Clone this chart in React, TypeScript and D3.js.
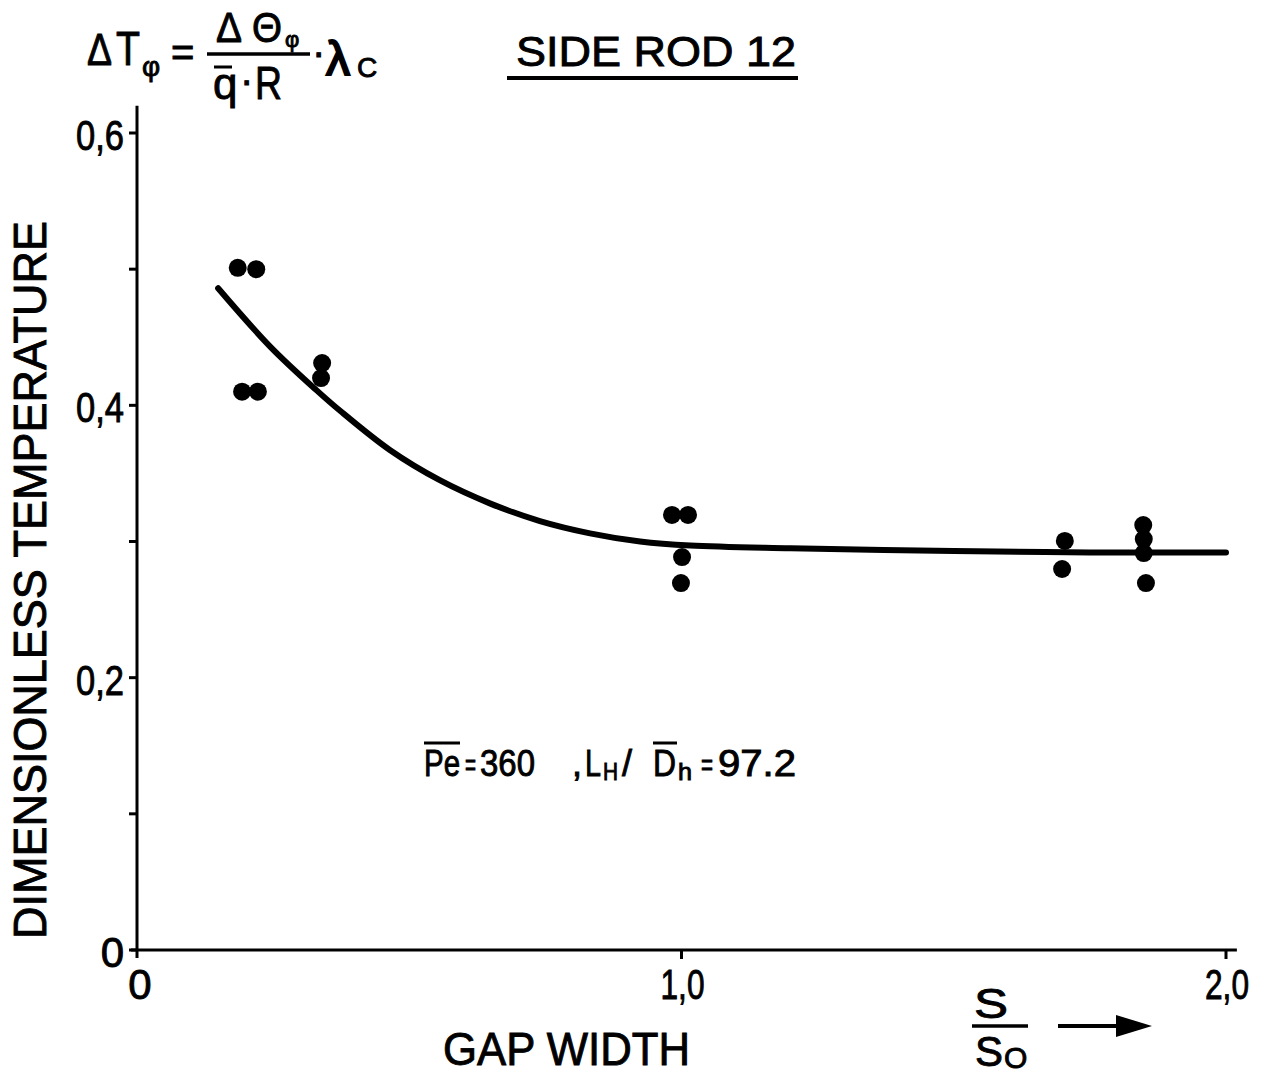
import React from "react";
import * as d3 from "d3";

const pointsX = [0.185, 0.219, 0.193, 0.222, 0.34, 0.338, 0.9825, 1.012, 1.001, 0.999, 1.704, 1.699, 1.848, 1.849, 1.849, 1.853];
const pointsY = [0.501, 0.500, 0.410, 0.410, 0.431, 0.420, 0.3195, 0.3195, 0.2886, 0.2695, 0.3004, 0.2798, 0.3121, 0.3018, 0.2915, 0.2695];

const curveX = [0.149, 0.245, 0.33, 0.373, 0.465, 0.556, 0.648, 0.74, 0.832, 0.924, 1.016, 1.2, 1.5, 1.75, 2.0];
const curveY = [0.486, 0.443, 0.411, 0.396, 0.367, 0.345, 0.328, 0.315, 0.306, 0.300, 0.297, 0.295, 0.293, 0.292, 0.292];

const yTicks = [0, 0.1, 0.2, 0.3, 0.4, 0.5, 0.6];
const yTickLabels = ["0", "", "0,2", "", "0,4", "", "0,6"];
const xTicks = [0, 1, 2];
const xTickLabels = ["0", "1,0", "2,0"];

const FONT = "'Liberation Sans', Arial, sans-serif";
const TS = { fill: "#000", stroke: "#000", strokeWidth: 0.9 } as const;

export default function App() {
  const x = d3.scaleLinear().domain([0, 2]).range([137, 1226]);
  const y = d3.scaleLinear().domain([0, 0.6]).range([950, 133]);
  const line = d3
    .line<number>()
    .x((_, i) => x(curveX[i]))
    .y((_, i) => y(curveY[i]))
    .curve(d3.curveCatmullRom.alpha(0.5));
  const curvePath = line(curveX) || "";

  return (
    <svg
      width={1262}
      height={1075}
      style={{ position: "absolute", left: 0, top: 0, background: "#fff" }}
      fontFamily={FONT}
    >
      <rect width={1262} height={1075} fill="#fff" />
      {/* axes */}
      <line x1={x(0)} x2={x(0)} y1={y(0) + 8} y2={y(0.62)} stroke="#000" strokeWidth={3} />
      <line x1={x(0) - 6} x2={x(2.02)} y1={y(0)} y2={y(0)} stroke="#000" strokeWidth={3} />
      {yTicks.map((t, i) => (
        <g key={"yt" + i}>
          <line x1={x(0) - 8} x2={x(0)} y1={y(t)} y2={y(t)} stroke="#000" strokeWidth={3} />
          {yTickLabels[i] && (
            <text
              x={x(0) - 13}
              y={y(t) + 17}
              fontSize={42}
              textAnchor="end"
              {...TS}
              {...(yTickLabels[i].length > 1 ? { textLength: 48, lengthAdjust: "spacingAndGlyphs" } : {})}
            >
              {yTickLabels[i]}
            </text>
          )}
        </g>
      ))}
      {xTicks.map((t, i) => (
        <g key={"xt" + i}>
          {t > 0 && <line x1={x(t)} x2={x(t)} y1={y(0)} y2={y(0) + 9} stroke="#000" strokeWidth={3} />}
          <text
            x={x(t) + (t === 0 ? 3 : 1)}
            y={999}
            fontSize={42}
            textAnchor="middle"
            {...TS}
            {...(xTickLabels[i].length > 1 ? { textLength: 44, lengthAdjust: "spacingAndGlyphs" } : {})}
          >
            {xTickLabels[i]}
          </text>
        </g>
      ))}

      {/* curve */}
      <path d={curvePath} fill="none" stroke="#000" strokeWidth={6} strokeLinecap="round" />

      {/* points */}
      {pointsX.map((px, i) => (
        <circle key={"p" + i} cx={x(px)} cy={y(pointsY[i])} r={9} fill="#000" />
      ))}

      {/* y axis label */}
      <text
        transform="translate(46,580) rotate(-90)"
        fontSize={46}
        textAnchor="middle"
        textLength={718}
        lengthAdjust="spacingAndGlyphs"
        {...TS}
      >
        DIMENSIONLESS TEMPERATURE
      </text>

      {/* x axis label */}
      <text x={443} y={1065} fontSize={46} textLength={247} lengthAdjust="spacingAndGlyphs" {...TS}>
        GAP WIDTH
      </text>

      {/* S / S0 with arrow */}
      <text x={974} y={1018} fontSize={42} textLength={34} lengthAdjust="spacingAndGlyphs" {...TS}>S</text>
      <line x1={972} x2={1028} y1={1026} y2={1026} stroke="#000" strokeWidth={3.5} />
      <text x={975} y={1066} fontSize={42} textLength={28} lengthAdjust="spacingAndGlyphs" {...TS}>S</text>
      <text x={1004} y={1068} fontSize={30} {...TS}>O</text>
      <line x1={1058} x2={1122} y1={1026} y2={1026} stroke="#000" strokeWidth={4} />
      <path d="M1116,1015 L1152,1026 L1116,1037 Z" fill="#000" />

      {/* title */}
      <text x={516} y={66} fontSize={43} textLength={280} lengthAdjust="spacingAndGlyphs" {...TS}>
        SIDE ROD 12
      </text>
      <line x1={507} x2={798} y1={78} y2={78} stroke="#000" strokeWidth={4} />

      {/* formula */}
      <text x={87} y={65} fontSize={44} textLength={25} lengthAdjust="spacingAndGlyphs" {...TS}>Δ</text>
      <text x={116} y={65} fontSize={48} textLength={24} lengthAdjust="spacingAndGlyphs" {...TS}>T</text>
      <text x={142} y={76} fontSize={28} {...TS}>φ</text>
      <text x={171} y={66} fontSize={40} {...TS}>=</text>
      <text x={216} y={42} fontSize={42} textLength={26} lengthAdjust="spacingAndGlyphs" {...TS}>Δ</text>
      <text x={252} y={42} fontSize={42} textLength={30} lengthAdjust="spacingAndGlyphs" {...TS}>Θ</text>
      <text x={285} y={47} fontSize={22} {...TS}>φ</text>
      <line x1={207} x2={310} y1={54} y2={54} stroke="#000" strokeWidth={3.5} />
      <line x1={214} x2={232} y1={67} y2={67} stroke="#000" strokeWidth={3} />
      <text x={213} y={99} fontSize={44} {...TS}>q</text>
      <text x={240} y={94} fontSize={40} {...TS}>·</text>
      <text x={255} y={99} fontSize={46} textLength={27} lengthAdjust="spacingAndGlyphs" {...TS}>R</text>
      <text x={312} y={66} fontSize={40} {...TS}>·</text>
      <text x={326} y={75} fontSize={48} {...TS} strokeWidth={2}>λ</text>
      <text x={357} y={77} fontSize={28} {...TS}>C</text>

      {/* parameter annotation */}
      <line x1={424} x2={460} y1={743} y2={743} stroke="#000" strokeWidth={3} />
      <text x={424} y={776} fontSize={36} textLength={36} lengthAdjust="spacingAndGlyphs" {...TS}>Pe</text>
      <text x={465} y={775} fontSize={30} textLength={11} lengthAdjust="spacingAndGlyphs" {...TS}>=</text>
      <text x={480} y={776} fontSize={36} textLength={55} lengthAdjust="spacingAndGlyphs" {...TS}>360</text>
      <text x={572} y={776} fontSize={36} {...TS}>,</text>
      <text x={585} y={776} fontSize={36} textLength={16} lengthAdjust="spacingAndGlyphs" {...TS}>L</text>
      <text x={603} y={780} fontSize={24} textLength={15} lengthAdjust="spacingAndGlyphs" {...TS}>H</text>
      <text x={622} y={776} fontSize={36} {...TS}>/</text>
      <line x1={653} x2={677} y1={743} y2={743} stroke="#000" strokeWidth={3} />
      <text x={653} y={776} fontSize={36} textLength={23} lengthAdjust="spacingAndGlyphs" {...TS}>D</text>
      <text x={678} y={780} fontSize={24} textLength={14} lengthAdjust="spacingAndGlyphs" {...TS}>h</text>
      <text x={701} y={775} fontSize={30} textLength={12} lengthAdjust="spacingAndGlyphs" {...TS}>=</text>
      <text x={718} y={776} fontSize={36} textLength={78} lengthAdjust="spacingAndGlyphs" {...TS}>97.2</text>
    </svg>
  );
}
